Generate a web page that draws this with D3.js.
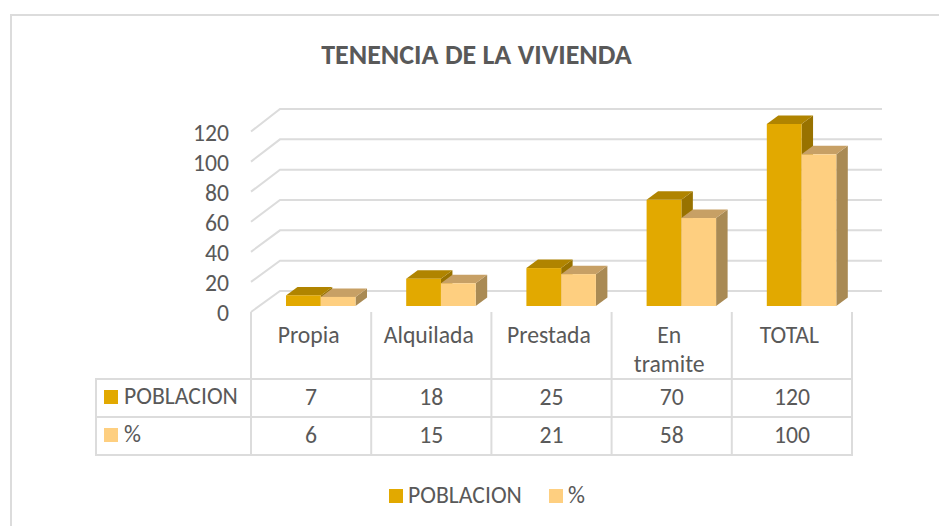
<!DOCTYPE html>
<html>
<head>
<meta charset="utf-8">
<script src="https://cdn.jsdelivr.net/npm/d3@7"></script>
<style>
  html, body { margin: 0; padding: 0; background: #fff; }
  svg { display: block; }
  text { font-family: Carlito, "Open Sans", "Noto Sans", sans-serif; fill: #595959; }
</style>
</head>
<body>
<svg id="canvas" width="939" height="526"></svg>
<script>
let categories = ['Propia', 'Alquilada', 'Prestada', 'En tramite', 'TOTAL'];
let poblacion = [7, 18, 25, 70, 120];
let porcentaje = [6, 15, 21, 58, 100];
let seriesNames = ['POBLACION', '%'];
let yTicks = [0, 20, 40, 60, 80, 100, 120];

let colors = { POBLACION: '#e2a900', '%': '#fecf80' };
let topColors = { POBLACION: '#b08400', '%': '#c7a065' };
let sideColors = { POBLACION: '#987200', '%': '#a98a54' };
let gridColor = '#dcdcdc';
let fontSize = 23.7;

let canvas = d3.select('#canvas');

// chart frame
canvas.append('rect')
    .attr('x', 11).attr('y', 15)
    .attr('width', 960).attr('height', 560)
    .attr('fill', 'white')
    .attr('stroke', gridColor)
    .attr('stroke-width', 2);

canvas.append('text')
    .attr('x', 476.5).attr('y', 63.5)
    .attr('text-anchor', 'middle')
    .attr('font-size', 28)
    .attr('font-weight', 'bold')
    .text('TENENCIA DE LA VIVIENDA');

// front edge and back wall scales
let x = d3.scaleBand().domain(categories).range([251, 852]);
let yFront = d3.scaleLinear().domain([0, 120]).range([312, 131.5]);
let yBack = d3.scaleLinear().domain([0, 120]).range([291, 109]);
let backX = 280, backRight = 882;

// gridlines run along the side wall then the back wall
let grid = canvas.append('g');
yTicks.forEach((t) => {
    grid.append('path')
        .attr('d', d3.line()([[251, yFront(t)], [backX, yBack(t)], [backRight, yBack(t)]]))
        .attr('fill', 'none')
        .attr('stroke', gridColor)
        .attr('stroke-width', 2);
});

// y axis labels
let yAxis = d3.axisLeft(yFront).tickValues(yTicks).tickSize(0).tickPadding(0);
let yAxisG = canvas.append('g').attr('transform', 'translate(229,1)').call(yAxis);
yAxisG.select('.domain').remove();
yAxisG.selectAll('text')
    .attr('font-size', fontSize)
    .style('font-family', 'Carlito, "Open Sans", "Noto Sans", sans-serif');

// 3d bars
let barBase = 306;
let unit = d3.scaleLinear().domain([0, 120]).range([0, 182]);
let barOffset = d3.scaleBand().domain(seriesNames).range([0, 69.5]);
let depthX = 11.5, depthY = -8.5;

let drawBars = (name, values) => {
    let g = canvas.append('g').attr('class', 'series');
    values.forEach((v, i) => {
        let left = x(categories[i]) + 35 + barOffset(name);
        let right = left + barOffset.bandwidth();
        let top = barBase - unit(v);
        g.append('path')
            .attr('fill', sideColors[name])
            .attr('d', d3.line()([[right, top], [right + depthX, top + depthY], [right + depthX, barBase + depthY], [right, barBase]]) + 'Z');
        g.append('path')
            .attr('fill', topColors[name])
            .attr('d', d3.line()([[left, top], [left + depthX, top + depthY], [right + depthX, top + depthY], [right, top]]) + 'Z');
        g.append('rect')
            .attr('x', left).attr('y', top)
            .attr('width', barOffset.bandwidth())
            .attr('height', barBase - top)
            .attr('fill', colors[name]);
    });
};
drawBars('POBLACION', poblacion);
drawBars('%', porcentaje);

// data table under the chart
let tableLeft = 96, rowTop = 379, rowH = 38;
let table = canvas.append('g')
    .attr('stroke', gridColor).attr('stroke-width', 2);
[0, 1, 2].forEach((r) => {
    table.append('line')
        .attr('x1', tableLeft - 1).attr('x2', 853)
        .attr('y1', rowTop + r * rowH).attr('y2', rowTop + r * rowH);
});
table.append('line')
    .attr('x1', tableLeft).attr('x2', tableLeft)
    .attr('y1', rowTop).attr('y2', rowTop + 2 * rowH);
categories.concat(['end']).forEach((c, i) => {
    let xPos = 251 + i * x.bandwidth();
    table.append('line')
        .attr('x1', xPos).attr('x2', xPos)
        .attr('y1', 312).attr('y2', rowTop + 2 * rowH);
});

categories.forEach((c, i) => {
    let cx = x(c) + x.bandwidth() / 2 - 2.5;
    let words = c === 'En tramite' ? ['En', 'tramite'] : [c];
    words.forEach((w, j) => {
        canvas.append('text')
            .attr('x', cx).attr('y', 343 + j * 29)
            .attr('text-anchor', 'middle')
            .attr('font-size', fontSize)
            .text(w);
    });
    canvas.append('text')
        .attr('x', x(c) + x.bandwidth() / 2).attr('y', rowTop + 26)
        .attr('text-anchor', 'middle').attr('font-size', fontSize)
        .text(poblacion[i]);
    canvas.append('text')
        .attr('x', x(c) + x.bandwidth() / 2).attr('y', rowTop + rowH + 26)
        .attr('text-anchor', 'middle').attr('font-size', fontSize)
        .text(porcentaje[i]);
});

seriesNames.forEach((s, r) => {
    canvas.append('rect')
        .attr('x', 104).attr('y', rowTop + 11 + r * rowH)
        .attr('width', 14).attr('height', 14)
        .attr('fill', colors[s]);
    canvas.append('text')
        .attr('x', 124).attr('y', rowTop + 25 + r * rowH)
        .attr('font-size', fontSize)
        .text(s);
});

// legend at the bottom
let legendX = { POBLACION: 389, '%': 549 };
seriesNames.forEach((s) => {
    canvas.append('rect')
        .attr('x', legendX[s]).attr('y', 489)
        .attr('width', 14).attr('height', 14)
        .attr('fill', colors[s]);
    canvas.append('text')
        .attr('x', legendX[s] + 19).attr('y', 503)
        .attr('font-size', fontSize)
        .text(s);
});
</script>
</body>
</html>
